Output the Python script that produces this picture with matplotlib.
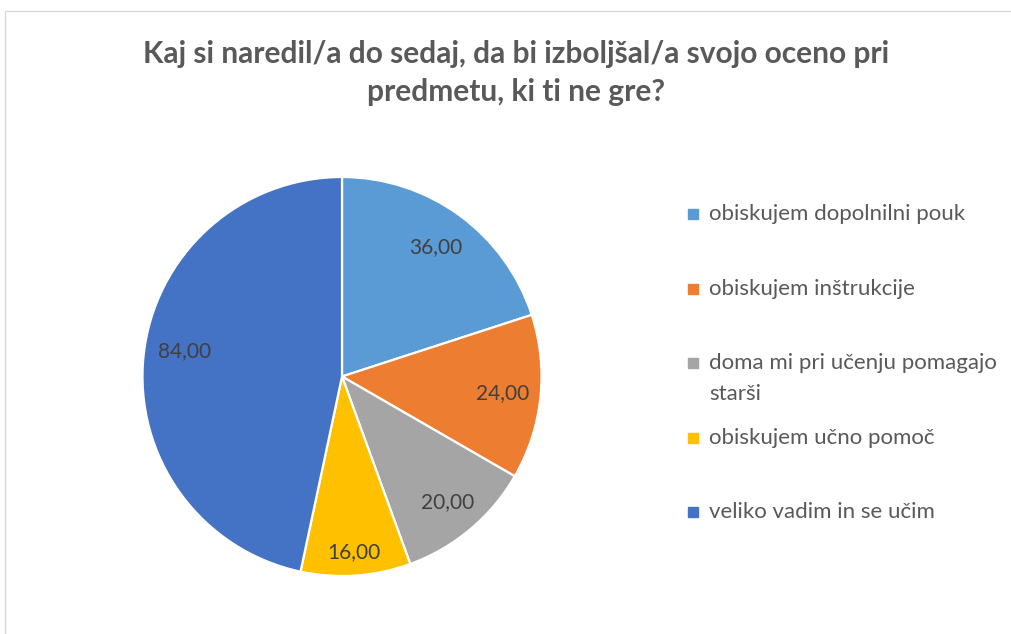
"""Pie chart: what students did to improve their grade."""

import matplotlib.pyplot as plt
import numpy as np
from matplotlib.lines import Line2D
from matplotlib.patches import Rectangle

TITLE = "Kaj si naredil/a do sedaj, da bi izboljšal/a svojo oceno pri\npredmetu, ki ti ne gre?"
categories = [
    "obiskujem dopolnilni pouk",
    "obiskujem inštrukcije",
    "doma mi pri učenju pomagajo\nstarši",
    "obiskujem učno pomoč",
    "veliko vadim in se učim",
]
values = [36.0, 24.0, 20.0, 16.0, 84.0]
colors = ["#5B9BD5", "#ED7D31", "#A5A5A5", "#FFC000", "#4472C4"]
label_dist = [0.80, 0.81, 0.82, 0.88, 0.80]

plt.rcParams["font.family"] = ["Lato", "DejaVu Sans"]

W, H = 1011, 634
fig = plt.figure(figsize=(W / 100, H / 100), dpi=100)

# chart area border (Excel style)
fig.patches.append(
    Rectangle((4.5 / W, -0.05), 1.1, (H - 11) / H + 0.05, transform=fig.transFigure,
              fill=False, edgecolor="#D9D9D9", linewidth=1.0)
)

fig.text(516 / W, 1 - 73 / H, TITLE, ha="center", va="center", fontsize=21.5,
         fontweight="bold", color="#595959", linespacing=1.45)

cx, cy, r = 342, 376.5, 199.5
ax = fig.add_axes([(cx - r) / W, (H - cy - r) / H, 2 * r / W, 2 * r / H])
wedges, _ = ax.pie(values, colors=colors, startangle=90, counterclock=False,
                   wedgeprops=dict(edgecolor="white", linewidth=1.6))
ax.set_xlim(-1, 1)
ax.set_ylim(-1, 1)
ax.set_aspect("equal")
ax.axis("off")

for w, v, d in zip(wedges, values, label_dist):
    mid = np.deg2rad((w.theta1 + w.theta2) / 2 - 3 * (v > 50))
    ax.text(d * np.cos(mid), d * np.sin(mid), f"{v:.2f}".replace(".", ","),
            ha="center", va="center", fontsize=15, color="#404040")

# legend in Excel style: fixed slot pitch, wrapped lines overflow downwards
leg_x, leg_y0, pitch, line_h = 693, 214, 74.5, 31
for i, (label, c) in enumerate(zip(categories, colors)):
    y = leg_y0 + i * pitch
    fig.add_artist(Line2D([leg_x / W], [1 - y / H], transform=fig.transFigure,
                          marker="s", markersize=7, linestyle="none",
                          markerfacecolor=c, markeredgecolor=c))
    for k, line in enumerate(label.split("\n")):
        fig.text((leg_x + 16) / W, 1 - (y + k * line_h) / H, line, ha="left",
                 va="center", fontsize=16, color="#595959")

fig.savefig("out.png", dpi=100)
